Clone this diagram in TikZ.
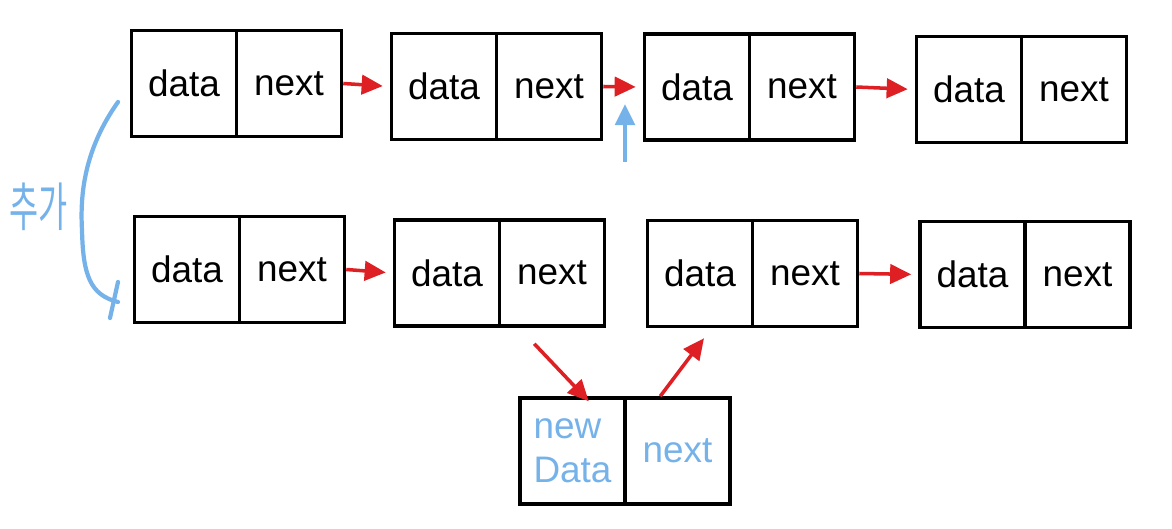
\documentclass[tikz,border=0pt]{standalone}
\usepackage{fontspec}
\setmainfont{Liberation Sans}
\newfontfamily\krfont{Noto Sans CJK KR}
\usetikzlibrary{positioning, arrows.meta}
\definecolor{linkred}{RGB}{222,32,36}
\definecolor{addblue}{RGB}{118,178,234}
\tikzset{
	node distance=-1pt,
	>={Triangle[length=6pt,width=5.5pt]},
	cell/.style={draw, line width=1pt, minimum width=1.05cm, minimum height=1.06cm,
		inner sep=0pt, font=\fontsize{10.5}{12.5}\selectfont},
	link/.style={->, linkred, line width=1pt, shorten >=2pt},
	addline/.style={addblue, line width=1.2pt, line cap=round}}

\begin{document}
\begin{tikzpicture}
	\useasboundingbox[fill=white] (0,0) rectangle (11.72,-5.29);

	% upper list
	\node[cell] (Ad) at (1.84,-0.835) {data};
	\node[cell, right=of Ad] (An) {next};
	\node[cell] (Bd) at (4.44,-0.865) {data};
	\node[cell, right=of Bd] (Bn) {next};
	\node[cell] (Cd) at (6.97,-0.87) {data};
	\node[cell, right=of Cd] (Cn) {next};
	\node[cell] (Dd) at (9.69,-0.895) {data};
	\node[cell, right=of Dd] (Dn) {next};

	% lower list
	\node[cell] (Ed) at (1.87,-2.695) {data};
	\node[cell, right=of Ed] (En) {next};
	\node[cell] (Fd) at (4.47,-2.73) {data};
	\node[cell, right=of Fd] (Fn) {next};
	\node[cell] (Gd) at (7.0,-2.735) {data};
	\node[cell, right=of Gd] (Gn) {next};
	\node[cell] (Hd) at (9.725,-2.745) {data};
	\node[cell, right=of Hd] (Hn) {next};

	% new node
	\node[cell, text=addblue, align=left] (Nd) at (5.725,-4.51) {new\\Data};
	\node[cell, right=of Nd, text=addblue] (Nn) {next};

	\draw
	(An.east) edge[link] (Bd.west)
	(Bn.east) edge[link] (Cd.west)
	(Cn.east) edge[link] (Dd.west)
	(En.east) edge[link] (Fd.west)
	(Gn.east) edge[link] (Hd.west)
	([shift={(0.33,-0.16)}]Fd.south east) edge[link, shorten >=0pt] ([shift={(-0.38,-0.05)}]Nd.north east)
	([xshift=0.37cm]Nn.north west) edge[link, shorten >=0pt] ([shift={(0.04,-0.1)}]Gd.south)
	;

	% insert position and label
	\coordinate (ins) at (6.25,-1.04);
	\draw[addline, ->, line cap=butt] ([yshift=-0.58cm]ins) -- (ins);
	\draw[addline] (1.18,-1.02) .. controls (0.84,-1.5) and (0.80,-1.95) .. (0.82,-2.3)
		.. controls (0.83,-2.75) and (0.9,-2.95) .. (1.18,-3.02);
	\draw[addline] (1.18,-2.82) -- (1.10,-3.18);
	\node[text=addblue, font=\krfont\fontsize{15}{17}\selectfont, xscale=0.6, transform shape] (lbl) at (0.39,-2.07) {추가};
\end{tikzpicture}
\end{document}
